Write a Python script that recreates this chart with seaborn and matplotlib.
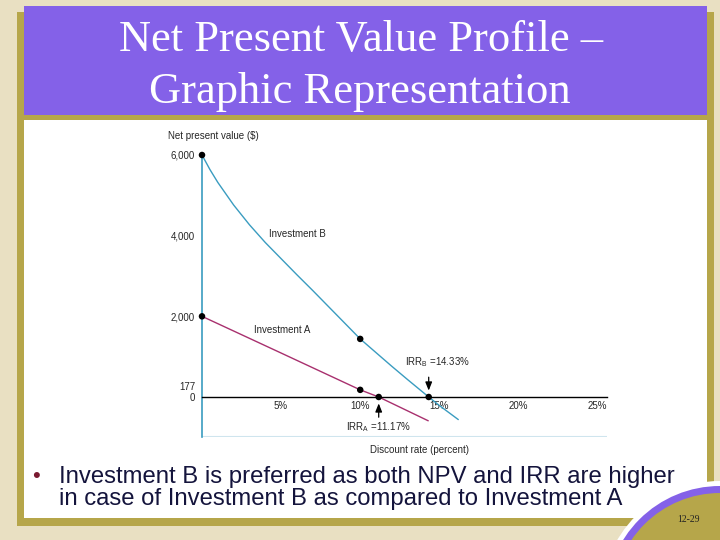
"""
NPV profile slide: Investment A vs Investment B
"""

import numpy as np
import pandas as pd
import matplotlib
matplotlib.use("Agg")
import matplotlib.pyplot as plt
import matplotlib.patches as mpatches
import matplotlib.transforms as mtransforms
import seaborn as sns

# ---- data ----
rate_b = [0, 0.5, 1, 2, 3, 4, 5, 6, 7, 8, 9, 10, 11, 12, 13, 14.33, 15, 16.2]
npv_b = [6000, 5640, 5320, 4760, 4270, 3830, 3430, 3030, 2640, 2240, 1840,
         1440, 1100, 760, 430, 0, -210, -560]

rate_a = [0, 5, 10, 11.17, 14.3]
npv_a = [2000, 1090, 177, 0, -590]

dot_rate = [0, 0, 10, 10, 11.17, 14.33]
dot_npv = [6000, 2000, 1440, 177, 0, 0]

x_ticks = [5, 10, 15, 20, 25]
x_labels = ["5%", "10%", "15%", "20%", "25%"]
y_ticks = [0, 177, 2000, 4000, 6000]
y_labels = ["0", "177", "2,000", "4,000", "6,000"]

irr_a = 11.17
irr_b = 14.33

df_b = pd.DataFrame({"rate": rate_b, "npv": npv_b})
df_a = pd.DataFrame({"rate": rate_a, "npv": npv_a})
dots = pd.DataFrame({"rate": dot_rate, "npv": dot_npv})

sns.set_style("white")
plt.rcParams["font.family"] = ["Liberation Sans", "DejaVu Sans"]

W, H = 720, 540
BEIGE = "#e9e0c2"
GOLD = "#b6a64a"
PURPLE = "#8461e8"
TEAL = "#3a9cc0"
MAGENTA = "#a8306e"

fig = plt.figure(figsize=(7.2, 5.4), dpi=100, facecolor=BEIGE)


def px_rect(x0, y0, x1, y1, color, z):
    # rectangle given in pixel coords (origin top-left)
    r = mpatches.Rectangle((x0 / W, 1 - y1 / H), (x1 - x0) / W, (y1 - y0) / H,
                           transform=fig.transFigure, facecolor=color,
                           edgecolor="none", zorder=z)
    fig.patches.append(r)


def px_circle(cx, cy, r, color, z):
    e = mpatches.Ellipse((cx / W, 1 - cy / H), 2 * r / W, 2 * r / H,
                         transform=fig.transFigure, facecolor=color,
                         edgecolor="none", zorder=z)
    fig.patches.append(e)


# slide frame
px_rect(17, 12, 714, 526, GOLD, 0)
px_rect(24, 6, 707, 115, PURPLE, 1)
px_rect(24, 120, 707, 518, "white", 1)

# corner decoration
px_circle(720, 600, 119, "white", 2)
px_circle(720, 600, 114, PURPLE, 3)
px_circle(720, 600, 107, GOLD, 4)

fig.text(361 / W, 1 - 40 / H, "Net Present Value Profile \u2013",
         family=["Liberation Serif", "DejaVu Serif"], fontsize=32,
         color="white", ha="center", va="center")
fig.text(360 / W, 1 - 92 / H, "Graphic Representation",
         family=["Liberation Serif", "DejaVu Serif"], fontsize=32,
         color="white", ha="center", va="center")

# bullet text
fig.text(32 / W, 1 - 477 / H, "\u2022", fontsize=16, color="#7a1a30",
         ha="left", va="center")
fig.text(59 / W, 1 - 488 / H,
         "Investment B is preferred as both NPV and IRR are higher\n"
         "in case of Investment B as compared to Investment A",
         fontsize=17.2, color="#14143c", ha="left", va="center",
         linespacing=1.0)

fig.text(688 / W, 1 - 520 / H, "12-29",
         family=["Liberation Serif", "DejaVu Serif"], fontsize=7,
         color="#222222", ha="center", va="center", zorder=10)

# ---- chart ----
ax = fig.add_axes([202 / W, 1 - 437 / H, (607 - 202) / W, (437 - 155) / H])
ax.set_zorder(6)
ax.set_facecolor("white")
ax.set_xlim(0, 25.6)
ax.set_ylim(-992, 6000)

sns.lineplot(data=df_b, x="rate", y="npv", ax=ax, color=TEAL, lw=1.0,
             sort=False, zorder=3)
sns.lineplot(data=df_a, x="rate", y="npv", ax=ax, color=MAGENTA, lw=1.0,
             sort=False, zorder=3)
sns.scatterplot(data=dots, x="rate", y="npv", ax=ax, color="black", s=22,
                edgecolor="none", zorder=5, clip_on=False)

# light bottom rule of the plot box
ax.axhline(-992, color="#cfe5ee", lw=1.5, zorder=1)

for s in ["top", "right"]:
    ax.spines[s].set_visible(False)
ax.spines["left"].set_color(TEAL)
ax.spines["left"].set_linewidth(1.2)
ax.spines["bottom"].set_position(("data", 0))
ax.spines["bottom"].set_color("black")
ax.spines["bottom"].set_linewidth(1.0)
ax.spines["bottom"].set_zorder(4)

ax.set_xticks(x_ticks)
ax.set_xticklabels(x_labels)
ax.set_yticks(y_ticks)
ax.set_yticklabels(y_labels)
ax.tick_params(axis="x", length=0, pad=3, labelsize=7)
ax.tick_params(axis="y", direction="in", length=6, width=0.8,
               color="#a9cfdc", pad=5, labelsize=7)
for t in ax.yaxis.get_major_ticks()[:2]:
    t.tick1line.set_visible(False)
lab177 = ax.get_yticklabels()[1]
lab177.set_transform(lab177.get_transform() +
                     mtransforms.ScaledTranslation(0, 3 / 72,
                                                   fig.dpi_scale_trans))
ax.set_xlabel("")
ax.set_ylabel("")

ax.text(4.24, 4040, "Investment B", fontsize=7, va="center", ha="left")
ax.text(3.29, 1660, "Investment A", fontsize=7, va="center", ha="left")

# IRR annotations
ax.text(14.9, 868, "IRR$_\\mathregular{B}$ =14.33%", fontsize=7,
        ha="center", va="center")
ax.annotate("", xy=(irr_b, 90), xytext=(irr_b, 560),
            arrowprops=dict(arrowstyle="-|>,head_length=0.5,head_width=0.2",
                            color="black", lw=0.9))
ax.text(irr_a, -744, "IRR$_\\mathregular{A}$ =11.17%", fontsize=7,
        ha="center", va="center")
ax.annotate("", xy=(irr_a, -90), xytext=(irr_a, -570),
            arrowprops=dict(arrowstyle="-|>,head_length=0.5,head_width=0.2",
                            color="black", lw=0.9))

fig.text(168 / W, 1 - 136 / H, "Net present value ($)", fontsize=7,
         ha="left", va="center", zorder=7)
fig.text(420 / W, 1 - 450 / H, "Discount rate (percent)", fontsize=7,
         ha="center", va="center", zorder=7)

fig.savefig("out.png", dpi=100, facecolor=BEIGE)
